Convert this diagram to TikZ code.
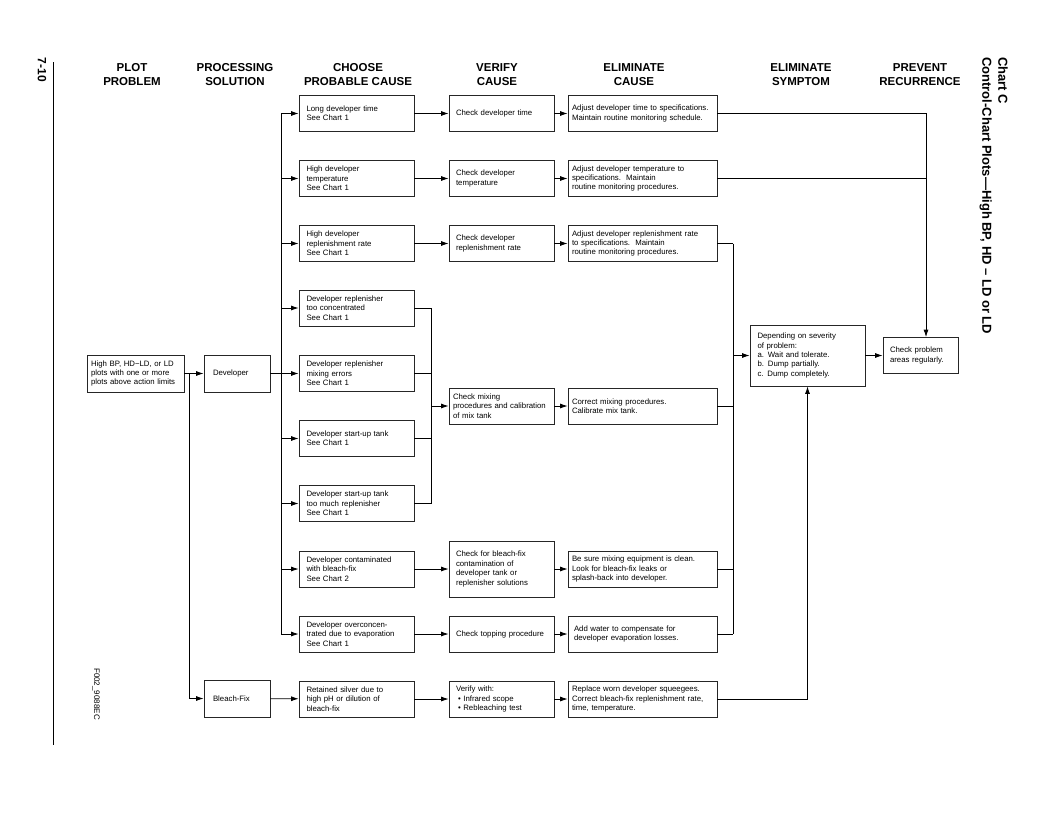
\documentclass[tikz,border=0pt]{standalone}
\usepackage{fontspec}
\setmainfont{Liberation Sans}
\usetikzlibrary{shapes,positioning,calc}
\usetikzlibrary{arrows.meta}
\tikzstyle{box} = [rectangle, draw=black!85, line width=0.8pt, align=left,
font=\fontsize{7.8}{9.4}\selectfont, minimum height=36pt, inner ysep=2pt]
\tikzstyle{causebox} = [box, text width=100pt, inner xsep=7.5pt]
\tikzstyle{checkbox} = [box, text width=91pt, inner xsep=7pt]
\tikzstyle{fixbox} = [box, text width=141pt, inner xsep=4pt]
\tikzstyle{heading} = [align=center, font=\fontsize{11.5}{14}\selectfont\bfseries]
\tikzstyle{line} = [line width=0.8pt]
\tikzstyle{arrow} = [line width=0.8pt,-{Latex[length=7.5pt,width=5pt]}]

\begin{document}
\begin{tikzpicture}[x=1pt,y=-1pt]
	\useasboundingbox (0,0) rectangle (1056,816);
	% page margin and labels
	\draw[line] (53,62) -- (53,745);
	\node (page) at (42,70) [rotate=-90, font=\fontsize{12}{14}\selectfont\bfseries] {7-10};
	\node (figno) at (96,694) [rotate=-90, font=\fontsize{8}{10}\selectfont] {F002\_9088EC};
	\node (title) at (1008,57) [rotate=-90, anchor=north west, inner sep=0pt, align=left,
		font=\fontsize{13}{16}\selectfont\bfseries] {Chart C\\Control-Chart Plots—High BP, HD – LD or LD};
	% column headings
	\node (h1) at (132,75) [heading] {PLOT\\PROBLEM};
	\node (h2) at (235,75) [heading] {PROCESSING\\SOLUTION};
	\node (h3) at (358,75) [heading] {CHOOSE\\PROBABLE CAUSE};
	\node (h4) at (497,75) [heading] {VERIFY\\CAUSE};
	\node (h5) at (634,75) [heading] {ELIMINATE\\CAUSE};
	\node (h6) at (801,75) [heading] {ELIMINATE\\SYMPTOM};
	\node (h7) at (920,75) [heading] {PREVENT\\RECURRENCE};
	% problem and solution
	\node (plot) at (135.5,373.5) [box, text width=89pt, inner xsep=4pt, minimum height=37pt] {High BP, HD−LD, or LD\\plots with one or more\\plots above action limits};
	\node (dev) at (237,373.5) [box, text width=48pt, inner xsep=9pt, minimum height=37pt] {Developer};
	\node (bleach) at (237,698.5) [box, text width=48pt, inner xsep=9pt, minimum height=37pt] {Bleach-Fix};
	% probable causes
	\node (c1) at (356.5,113.5) [causebox] {Long developer time\\See Chart 1};
	\node (c2) at (356.5,178.5) [causebox] {High developer\\temperature\\See Chart 1};
	\node (c3) at (356.5,243.5) [causebox] {High developer\\replenishment rate\\See Chart 1};
	\node (c4) at (356.5,308) [causebox] {Developer replenisher\\too concentrated\\See Chart 1};
	\node (c5) at (356.5,373.5) [causebox] {Developer replenisher\\mixing errors\\See Chart 1};
	\node (c6) at (356.5,438.5) [causebox] {Developer start-up tank\\See Chart 1};
	\node (c7) at (356.5,503.5) [causebox] {Developer start-up tank\\too much replenisher\\See Chart 1};
	\node (c8) at (356.5,569) [causebox] {Developer contaminated\\with bleach-fix\\See Chart 2};
	\node (c9) at (356.5,634) [causebox] {Developer overconcen-\\trated due to evaporation\\See Chart 1};
	\node (c10) at (356.5,699) [causebox] {Retained silver due to\\high pH or dilution of\\bleach-fix};
	% verify cause
	\node (v1) at (501.5,113.5) [checkbox] {Check developer time};
	\node (v2) at (501.5,178.5) [checkbox] {Check developer\\temperature};
	\node (v3) at (501.5,243.5) [checkbox] {Check developer\\replenishment rate};
	\node (vm) at (501.5,406) [checkbox, text width=97pt, inner xsep=4pt] {Check mixing\\procedures and calibration\\of mix tank};
	\node (v8) at (501.5,569) [checkbox, minimum height=56pt] {Check for bleach-fix\\contamination of\\developer tank or\\replenisher solutions};
	\node (v9) at (501.5,634) [checkbox] {Check topping procedure};
	\node (v10) at (501.5,699) [checkbox] {Verify with:\\\hspace{2pt}\textbullet\ Infrared scope\\\hspace{2pt}\textbullet\ Rebleaching test};
	% eliminate cause
	\node (e1) at (642.5,113.5) [fixbox] {Adjust developer time to specifications.\\Maintain routine monitoring schedule.};
	\node (e2) at (642.5,178.5) [fixbox] {Adjust developer temperature to\\specifications.\ \ Maintain\\routine monitoring procedures.};
	\node (e3) at (642.5,243.5) [fixbox] {Adjust developer replenishment rate\\to specifications.\ \ Maintain\\routine monitoring procedures.};
	\node (em) at (642.5,406) [fixbox] {Correct mixing procedures.\\Calibrate mix tank.};
	\node (e8) at (642.5,569) [fixbox] {Be sure mixing equipment is clean.\\Look for bleach-fix leaks or\\splash-back into developer.};
	\node (e9) at (642.5,634) [fixbox] {\hspace{2pt}Add water to compensate for\\\hspace{2pt}developer evaporation losses.};
	\node (e10) at (642.5,699) [fixbox] {Replace worn developer squeegees.\\Correct bleach-fix replenishment rate,\\time, temperature.};
	% symptom and recurrence
	\node (sympt) at (807.5,355.5) [box, text width=100pt, inner xsep=7.5pt, minimum height=61pt] {Depending on severity\\of problem:\\a. Wait and tolerate.\\b. Dump partially.\\c. Dump completely.};
	\node (check) at (920.5,355.5) [box, text width=61pt, inner xsep=7pt] {Check problem\\areas regularly.};
	% connectors
	\draw[arrow] (plot) -- (dev);
	\coordinate (split) at (189,373.5);
	\draw[arrow] (split) |- (bleach);
	\draw[arrow] (bleach) -- (c10);
	\coordinate (bus) at (281,373.5);
	\draw[line] (dev) -- (bus);
	\draw[line] (bus |- c1) -- (bus |- c9);
	\foreach \i in {1,...,9}
		\draw[arrow] (bus |- c\i) -- (c\i);
	\foreach \i in {1,2,3,8,9,10} {
		\draw[arrow] (c\i) -- (v\i);
		\draw[arrow] (v\i) -- (e\i);
	}
	\coordinate (mix) at (431,406);
	\foreach \i in {4,...,7}
		\draw[line] (c\i) -- (mix |- c\i);
	\draw[line] (mix |- c4) -- (mix |- c7);
	\draw[arrow] (mix) -- (vm);
	\draw[arrow] (vm) -- (em);
	\coordinate (rec) at (926,178.5);
	\draw[line] (e1) -| (rec);
	\draw[line] (e2) -- (rec);
	\draw[arrow] (rec) -- (rec |- check.north);
	\coordinate (sym) at (733,355.5);
	\foreach \n in {e3,em,e8,e9}
		\draw[line] (\n) -- (sym |- \n);
	\draw[line] (sym |- e3) -- (sym |- e9);
	\draw[arrow] (sym) -- (sympt);
	\draw[arrow] (e10) -| (sympt);
	\draw[arrow] (sympt) -- (check);
\end{tikzpicture}
\end{document}
